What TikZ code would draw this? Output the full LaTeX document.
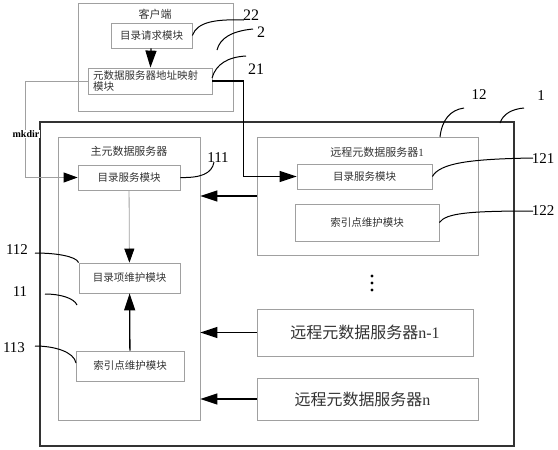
\documentclass[tikz,border=0pt]{standalone}
\usepackage{fontspec}
\setmainfont{Liberation Serif}
\newfontfamily\cjk{Noto Sans CJK SC}
\usetikzlibrary{arrows.meta}
\definecolor{boxgray}{HTML}{A0A0A0}
\definecolor{txtgray}{HTML}{333333}
\tikzset{
  box/.style={draw=boxgray, line width=0.8pt, rectangle, inner sep=0pt, font=\cjk\fontsize{10.5}{12}\selectfont, text=txtgray},
  bigbox/.style={box, font=\cjk\fontsize{16}{18}\selectfont},
  ttl/.style={font=\cjk\fontsize{11}{13}\selectfont, text=txtgray, inner sep=0pt},
  num/.style={font=\fontsize{15}{17}\selectfont, inner sep=0pt},
  lead/.style={line width=1pt, black},
  boldarr/.style={line width=1.3pt, black, -{Triangle[length=17pt,width=11pt]}},
  thinarr/.style={line width=0.8pt, boxgray, -{Triangle[length=14pt,width=10pt,color=black]}},
}
\begin{document}
\begin{tikzpicture}[x=1pt,y=-1pt]
\useasboundingbox (0,0) rectangle (558,450);
% client
\node[box, minimum width=155pt, minimum height=108pt] (client) at (155.5,57) {};
\node[ttl] (clientT) at (155,14) {客户端};
\node[box, minimum width=81pt, minimum height=25pt] (req) at (151.5,35.5) {目录请求模块};
\node[box, minimum width=124pt, minimum height=26pt, align=left, text width=114pt, font=\cjk\fontsize{10.5}{11.5}\selectfont] (map) at (150,81) {元数据服务器地址映射\\模块};
% outer
\node[draw=black!80, line width=1.8pt, minimum width=474pt, minimum height=324pt, inner sep=0pt] (outer) at (277,284) {};
% main server
\node[box, minimum width=142pt, minimum height=283pt] (main) at (129,278.5) {};
\node[ttl] (mainT) at (129,151) {主元数据服务器};
\node[box, minimum width=102pt, minimum height=25pt] (mdir) at (129,177.5) {目录服务模块};
\node[box, minimum width=101pt, minimum height=30pt] (mitem) at (129.5,278) {目录项维护模块};
\node[box, minimum width=108pt, minimum height=30pt] (midx) at (130,366) {索引点维护模块};
% remote 1
\node[box, minimum width=221pt, minimum height=118pt] (r1) at (367.5,196) {};
\node[ttl] (r1T) at (377,152) {远程元数据服务器{\rmfamily 1}};
\node[box, minimum width=135pt, minimum height=25pt] (rdir) at (364.5,176.5) {目录服务模块};
\node[box, minimum width=144pt, minimum height=37pt] (ridx) at (367,222.5) {索引点维护模块};
% dots
\node[inner sep=0pt] (dots) at (372,283) {\tikz[x=1pt,y=1pt]{\fill (0,0) circle (1.6) (0,-7) circle (1.6) (0,-14) circle (1.6);}};
% remote n-1, n
\node[bigbox, minimum width=216pt, minimum height=47pt] (rn1) at (365,332.5) {远程元数据服务器{\rmfamily n-1}};
\node[bigbox, minimum width=221pt, minimum height=42pt] (rn) at (367.5,399) {\hspace*{-10pt}远程元数据服务器{\rmfamily n}};
% connectors
\draw[boldarr] (req) -- (map);
\draw[boldarr] (map.east) -- ++(31,0) |- (rdir.west);
\draw[thinarr] (map.west) -- ++(-62,0) |- (mdir.west);
\node[font=\bfseries\fontsize{10}{12}\selectfont, fill=white, inner sep=0.5pt] (mk) at (26,134) {mkdir};
\draw[thinarr] (mdir) -- (mitem);
\draw[boldarr] (midx) -- (mitem);
\draw[boldarr] (r1.west) -- (r1.west -| main.east);
\draw[boldarr] (rn1.west) -- (rn1.west -| main.east);
\draw[boldarr] (rn.west) -- (rn.west -| main.east);
% labels
\node[num, font=\fontsize{16}{18}\selectfont] (n22) at (251,15) {22};
\node[num, font=\fontsize{16}{18}\selectfont] (n2) at (261,32) {2};
\node[num, font=\fontsize{16}{18}\selectfont] (n21) at (256,69) {21};
\node[num] (n1) at (541,96) {1};
\node[num] (n12) at (479,95) {12};
\node[num] (n121) at (543,159) {121};
\node[num] (n122) at (543,211) {122};
\node[num] (n111) at (218,158) {111};
\node[num] (n112) at (17,250) {112};
\node[num] (n11) at (20,292) {11};
\node[num] (n113) at (14,348) {113};
% leaders
\coordinate (p22) at (244,20);
\coordinate (p2) at (253,29);
\coordinate (p21) at (246,56);
\coordinate (p1) at (524,108);
\coordinate (p12) at (464,108);
\coordinate (p121) at (533,158);
\coordinate (p122) at (533,211);
\coordinate (p111) at (214,162);
\coordinate (p112) at (35,253);
\coordinate (p11) at (45,294);
\coordinate (p113) at (35,346);
\draw[lead] (req.east) .. controls (197,22) and (215,19) .. (p22);
\draw[lead] (217,50) .. controls (220,38) and (232,31) .. (p2);
\draw[lead] (212,78) .. controls (216,64) and (228,57) .. (p21);
\draw[lead] (500,123) .. controls (503,114) and (512,109) .. (p1);
\draw[lead] (440,137) .. controls (442,120) and (450,110) .. (p12);
\draw[lead] (rdir.east) .. controls (440,163) and (470,159) .. (p121);
\draw[lead] (ridx.east) .. controls (446,213) and (470,211) .. (p122);
\draw[lead] (mdir.east) .. controls (200,178) and (212,174) .. (p111);
\draw[lead] (p112) .. controls (55,253) and (76,256) .. (mitem.north west);
\draw[lead] (p11) .. controls (60,294) and (74,298) .. (77,305);
\draw[lead] (p113) .. controls (55,346) and (74,352) .. (76,363);
\end{tikzpicture}
\end{document}
